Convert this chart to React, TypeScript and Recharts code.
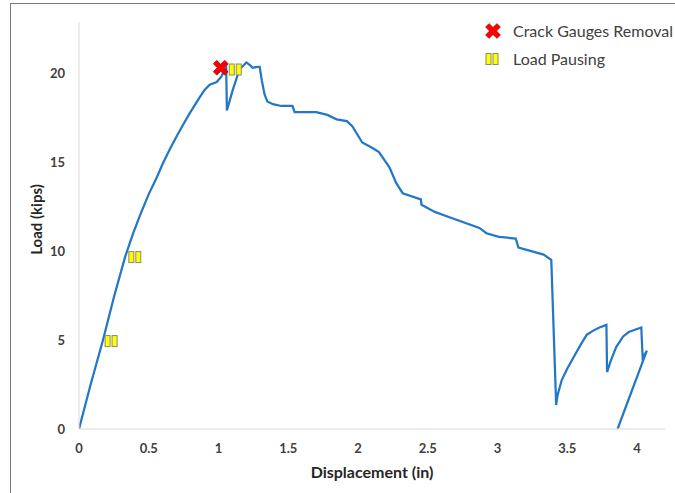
import React from 'react';
import {
  ComposedChart,
  Line,
  Scatter,
  XAxis,
  YAxis,
} from 'recharts';

// load-displacement curve
const displacement = [
  0, 0.08, 0.172, 0.25, 0.33, 0.386, 0.437, 0.5, 0.558, 0.6,
  0.65, 0.7, 0.75, 0.794, 0.83, 0.866, 0.9, 0.937, 0.987, 1.02, 1.045, 1.055, 1.06, 1.1,
  1.15, 1.2, 1.225, 1.245, 1.28, 1.295, 1.31, 1.33, 1.35, 1.39, 1.45, 1.53, 1.546, 1.7,
  1.78, 1.846, 1.92, 1.96, 2.03, 2.1, 2.15, 2.225, 2.275, 2.32, 2.45, 2.455, 2.55, 2.655,
  2.87, 2.92, 3.01, 3.13, 3.15, 3.33, 3.385, 3.42, 3.43, 3.46, 3.5, 3.55, 3.6, 3.64, 3.68,
  3.73, 3.78, 3.785, 3.81, 3.85, 3.9, 3.94, 4.03, 4.04, 4.07, 3.86,
];
const load = [
  0, 2.4, 5.0, 7.4, 9.66, 10.95, 12.0, 13.2, 14.15, 14.9,
  15.7, 16.45, 17.15, 17.75, 18.2, 18.65, 19.05, 19.35, 19.5, 19.8, 20.2, 20.3, 17.9, 19.0,
  20.2, 20.6, 20.45, 20.3, 20.35, 20.35, 19.6, 18.8, 18.4, 18.25, 18.15, 18.15, 17.8, 17.8,
  17.65, 17.4, 17.3, 17.0, 16.1, 15.8, 15.56, 14.7, 13.8, 13.25, 12.9, 12.6, 12.2, 11.9,
  11.3, 11.0, 10.8, 10.7, 10.2, 9.8, 9.5, 1.35, 1.9, 2.75, 3.4, 4.1, 4.8, 5.3, 5.5,
  5.7, 5.85, 3.2, 3.8, 4.6, 5.2, 5.45, 5.7, 4.0, 4.4, 0,
];

const crackX = [1.016];
const crackY = [20.3];
const pauseX = [0.23, 0.4, 1.12];
const pauseY = [4.94, 9.66, 20.2];

const xTicks = [0, 0.5, 1, 1.5, 2, 2.5, 3, 3.5, 4];
const yTicks = [0, 5, 10, 15, 20];

const curve = displacement.map((x, i) => ({ x, y: load[i] }));
const crack = crackX.map((x, i) => ({ x, y: crackY[i] }));
const pauses = pauseX.map((x, i) => ({ x, y: pauseY[i] }));

const FONT = 'Lato, "Open Sans", sans-serif';
const BLUE = '#2477c6';

const crossPoints = (() => {
  const a = 8;
  const w = 2.4;
  return [
    [-w, -a], [w, -a], [w, -w], [a, -w], [a, w], [w, w],
    [w, a], [-w, a], [-w, w], [-a, w], [-a, -w], [-w, -w],
  ].map(p => p.join(',')).join(' ');
})();

const CrossMark = ({ cx, cy }: any) => (
  <polygon
    points={crossPoints}
    transform={`translate(${cx},${cy}) rotate(45)`}
    fill="#ff0000"
    stroke="#b00000"
    strokeWidth={0.8}
  />
);

const PauseMark = ({ cx, cy }: any) => (
  <g>
    <rect x={cx - 6} y={cy - 5.5} width={5} height={11} fill="#ffff00" stroke="#8c8c6a" strokeWidth={1} />
    <rect x={cx + 1} y={cy - 5.5} width={5} height={11} fill="#ffff00" stroke="#8c8c6a" strokeWidth={1} />
  </g>
);

const LegendBox = () => (
  <div
    style={{
      position: 'absolute',
      left: 483,
      top: 17,
      fontFamily: FONT,
      fontSize: 16,
      color: '#404040',
      lineHeight: '28px',
      whiteSpace: 'nowrap',
    }}
  >
    <div style={{ display: 'flex', alignItems: 'center' }}>
      <svg width={20} height={20} style={{ marginRight: 10 }}>
        <CrossMark cx={10} cy={10} />
      </svg>
      Crack Gauges Removal
    </div>
    <div style={{ display: 'flex', alignItems: 'center' }}>
      <svg width={20} height={20} style={{ marginRight: 10 }}>
        <PauseMark cx={9} cy={10} />
      </svg>
      Load Pausing
    </div>
  </div>
);

const tickStyle = { fontFamily: FONT, fontSize: 13, fontWeight: 700, fill: '#404040' };

export default function App() {
  return (
    <div style={{ position: 'absolute', left: 0, top: 0, width: 675, height: 493, background: '#fff', overflow: 'hidden' }}>
      <div
        style={{
          position: 'absolute',
          left: 10,
          top: 3,
          width: 664,
          height: 490,
          borderTop: '1px solid #7a7a7a',
          borderLeft: '1px solid #7a7a7a',
        }}
      />
      <ComposedChart
        width={675}
        height={493}
        margin={{ top: 22, right: 10, left: 19, bottom: 34 }}
        style={{ position: 'absolute', left: 0, top: 0 }}
      >
        <XAxis
          type="number"
          dataKey="x"
          domain={[0, 4.2]}
          ticks={xTicks}
          tickFormatter={(v: number) => String(v)}
          allowDataOverflow
          height={30}
          stroke="#d9d9d9"
          tickLine={false}
          tickMargin={9}
          tick={tickStyle}
          label={{
            value: 'Displacement (in)',
            position: 'insideBottom',
            offset: -19,
            style: { fontFamily: FONT, fontSize: 16, fontWeight: 700, fill: '#262626' },
          }}
        />
        <YAxis
          type="number"
          dataKey="y"
          domain={[0, 22.87]}
          ticks={yTicks}
          allowDataOverflow
          width={60}
          stroke="#d9d9d9"
          tickLine={false}
          tickMargin={8}
          tick={tickStyle}
          label={{
            value: 'Load (kips)',
            angle: -90,
            position: 'insideLeft',
            offset: 18,
            dy: -6,
            style: { fontFamily: FONT, fontSize: 15, fontWeight: 700, fill: '#262626', textAnchor: 'middle' },
          }}
        />
        <Line
          data={curve}
          dataKey="y"
          type="linear"
          stroke={BLUE}
          strokeWidth={2.25}
          dot={false}
          isAnimationActive={false}
        />
        <Scatter data={crack} dataKey="y" shape={<CrossMark />} isAnimationActive={false} />
        <Scatter data={pauses} dataKey="y" shape={<PauseMark />} isAnimationActive={false} />
      </ComposedChart>
      <LegendBox />
    </div>
  );
}
